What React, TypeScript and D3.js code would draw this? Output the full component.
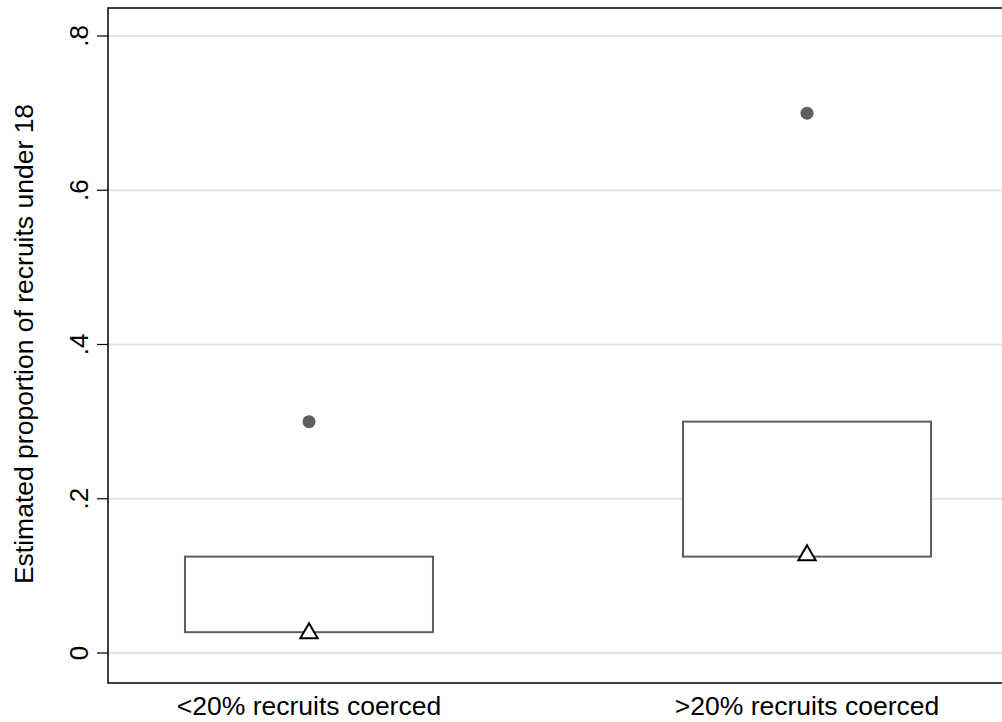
import React, { useEffect, useRef } from 'react';
import * as d3 from 'd3';

const categories = ['<20% recruits coerced', '>20% recruits coerced'];
const boxTop = [0.125, 0.3];
const boxBottom = [0.027, 0.125];
const dotValues = [0.3, 0.7];
const triangleValues = [0.027, 0.128];
const yTicks = [0, 0.2, 0.4, 0.6, 0.8];
const yTickLabels = ['0', '.2', '.4', '.6', '.8'];

function App() {
  const svgRef = useRef<SVGSVGElement>(null);

  useEffect(() => {
    const width = 1002;
    const height = 722;
    const left = 108;
    const right = 1008;
    const top = 8;
    const bottom = 683;
    const font = 'Liberation Sans, Arial, sans-serif';

    const svg = d3.select(svgRef.current);
    svg.selectAll('*').remove();
    svg.attr('width', width).attr('height', height);

    const y = d3.scaleLinear().domain([0, 0.8]).range([653, 36]);
    const x = d3.scalePoint<string>()
      .domain(categories)
      .range([left, right])
      .padding(0.4036);
    const boxHalf = 124;

    svg.append('rect')
      .attr('width', width).attr('height', height).attr('fill', 'white');

    // gridlines
    svg.selectAll('.grid')
      .data(yTicks)
      .enter().append('line')
      .attr('x1', left).attr('x2', right)
      .attr('y1', (d) => y(d)).attr('y2', (d) => y(d))
      .attr('stroke', '#e2e2e2').attr('stroke-width', 2);

    // boxes
    svg.selectAll('.box')
      .data(categories)
      .enter().append('rect')
      .attr('x', (d) => (x(d) as number) - boxHalf)
      .attr('width', boxHalf * 2)
      .attr('y', (d, i) => y(boxTop[i]))
      .attr('height', (d, i) => y(boxBottom[i]) - y(boxTop[i]))
      .attr('fill', 'white')
      .attr('stroke', '#5f5f5f')
      .attr('stroke-width', 2);

    // dots
    svg.selectAll('.dot')
      .data(categories)
      .enter().append('circle')
      .attr('cx', (d) => x(d) as number)
      .attr('cy', (d, i) => y(dotValues[i]))
      .attr('r', 6.5)
      .attr('fill', '#5f5f5f');

    // triangles
    const tri = d3.symbol().type(d3.symbolTriangle).size(130);
    svg.selectAll('.tri')
      .data(categories)
      .enter().append('path')
      .attr('d', tri)
      .attr('transform', (d, i) => `translate(${x(d)},${y(triangleValues[i]) + 1})`)
      .attr('fill', 'white')
      .attr('stroke', 'black')
      .attr('stroke-width', 2);

    // frame
    svg.append('rect')
      .attr('x', left).attr('y', top)
      .attr('width', right - left).attr('height', bottom - top)
      .attr('fill', 'none').attr('stroke', 'black').attr('stroke-width', 1.5);

    // y ticks
    const yAxis = svg.append('g');
    yAxis.selectAll('line')
      .data(yTicks)
      .enter().append('line')
      .attr('x1', left - 11).attr('x2', left)
      .attr('y1', (d) => y(d)).attr('y2', (d) => y(d))
      .attr('stroke', 'black').attr('stroke-width', 1.2);
    yAxis.selectAll('text')
      .data(yTicks)
      .enter().append('text')
      .attr('transform', (d) => `translate(88,${y(d)}) rotate(-90)`)
      .attr('text-anchor', 'middle')
      .style('font-family', font)
      .style('font-size', '26px')
      .text((d, i) => yTickLabels[i]);

    svg.append('text')
      .attr('transform', 'translate(33,344) rotate(-90)')
      .attr('text-anchor', 'middle')
      .style('font-family', font)
      .style('font-size', '26.5px')
      .text('Estimated proportion of recruits under 18');

    // x labels
    svg.selectAll('.xlab')
      .data(categories)
      .enter().append('text')
      .attr('x', (d) => x(d) as number)
      .attr('y', 715)
      .attr('text-anchor', 'middle')
      .style('font-family', font)
      .style('font-size', '26.5px')
      .text((d) => d);
  }, []);

  return (
    <svg ref={svgRef} style={{ position: 'absolute', left: 0, top: 0, display: 'block' }}></svg>
  );
}

export default App;
